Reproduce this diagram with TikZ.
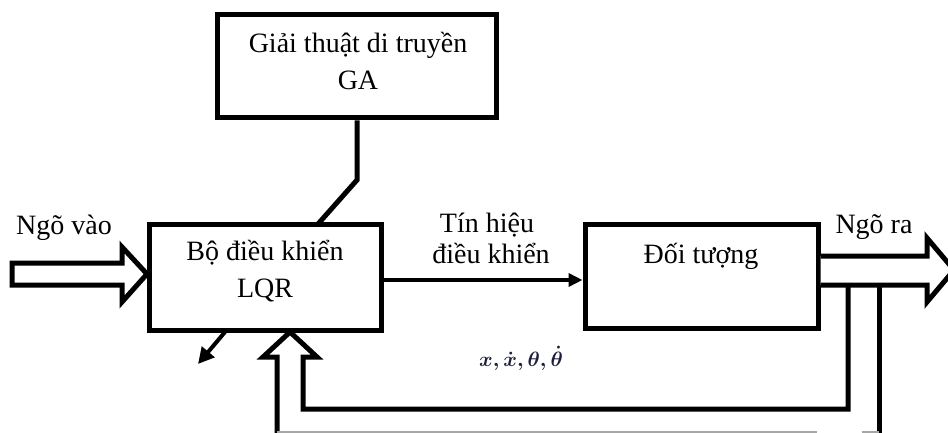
\documentclass[tikz,border=0pt]{standalone}
\usepackage{fontspec}
\setmainfont{Liberation Serif}
\usetikzlibrary{arrows.meta}
\definecolor{mathnavy}{HTML}{1C1E3C}
\begin{document}
\begin{tikzpicture}[x=1pt,y=-1pt,
  blockbox/.style={draw=black,line width=5pt,rectangle,inner sep=0pt},
  lbl/.style={font=\fontsize{28}{36}\selectfont,inner sep=0pt,anchor=base},
  hollow/.style={draw=black,line width=5pt,line join=miter,fill=white},
  thinarrow/.style={draw=black,line width=4pt,-{Triangle[length=14pt,width=13pt]}}]
\useasboundingbox (0,0) rectangle (948,433);
% blocks
\node[blockbox,minimum width=279pt,minimum height=103pt] (ga) at (356.5,66.5) {};
\node[lbl] (gatxt1) at (358,53) {Giải thuật di truyền};
\node[lbl] (gatxt2) at (358,90) {GA};
\node[blockbox,minimum width=232pt,minimum height=106pt] (lqr) at (265,277) {};
\node[lbl] (lqrtxt1) at (265,260) {Bộ điều khiển};
\node[lbl] (lqrtxt2) at (265,297) {LQR};
\node[blockbox,minimum width=233pt,minimum height=104pt] (plant) at (701.5,276.5) {};
\node[lbl] (planttxt) at (701,263) {Đối tượng};
% labels
\node[lbl] (inlbl) at (64,234) {Ngõ vào};
\node[lbl] (outlbl) at (874,233) {Ngõ ra};
\node[lbl] (siglbl1) at (487,232) {Tín hiệu};
\node[lbl] (siglbl2) at (491,263) {điều khiển};
\node[inner sep=0pt,anchor=base,text=mathnavy,font=\fontsize{21}{26}\selectfont\boldmath] (states) at (521,366) {$x,\dot{x},\theta,\dot{\theta}$};
% GA to LQR
\coordinate (gabend) at (357,180);
\draw[line width=5pt,line join=miter] (ga.south -| gabend) -- (gabend) -- (318,224);
% control signal
\draw[thinarrow] (lqr.east |- 0,280) -- (plant.west |- 0,280);
% diagonal output arrow from LQR
\coordinate (diagend) at (198,364);
\draw[thinarrow,-{Triangle[length=16pt,width=16pt]}] (225,332) -- (diagend);
% input hollow arrow
\coordinate (intip) at (147,274);
\draw[hollow] (12,263) -- (122,263) -- (122,247) -- (intip) -- (122,302) -- (122,285) -- (12,285) -- cycle;
% output hollow arrow
\coordinate (outtip) at (954,270);
\draw[hollow] (plant.east |- 0,256) -- (927,256) -- (927,238) -- (outtip) -- (927,302) -- (927,285) -- (plant.east |- 0,285);
% feedback hollow path
\coordinate (fbtip) at (290,332);
\draw[draw=black,line width=5pt,line join=miter]
  (848,285) -- (848,409) -- (303,409) -- (303,357) -- (317,357) -- (fbtip)
  -- (263,357) -- (277,357) -- (277,433);
\draw[draw=black,line width=5pt] (879,285) -- (879,433);
\draw[draw=gray!70,line width=2pt] (277,431.5) -- (817,431.5) (862,431.5) -- (879,431.5);
\end{tikzpicture}
\end{document}
